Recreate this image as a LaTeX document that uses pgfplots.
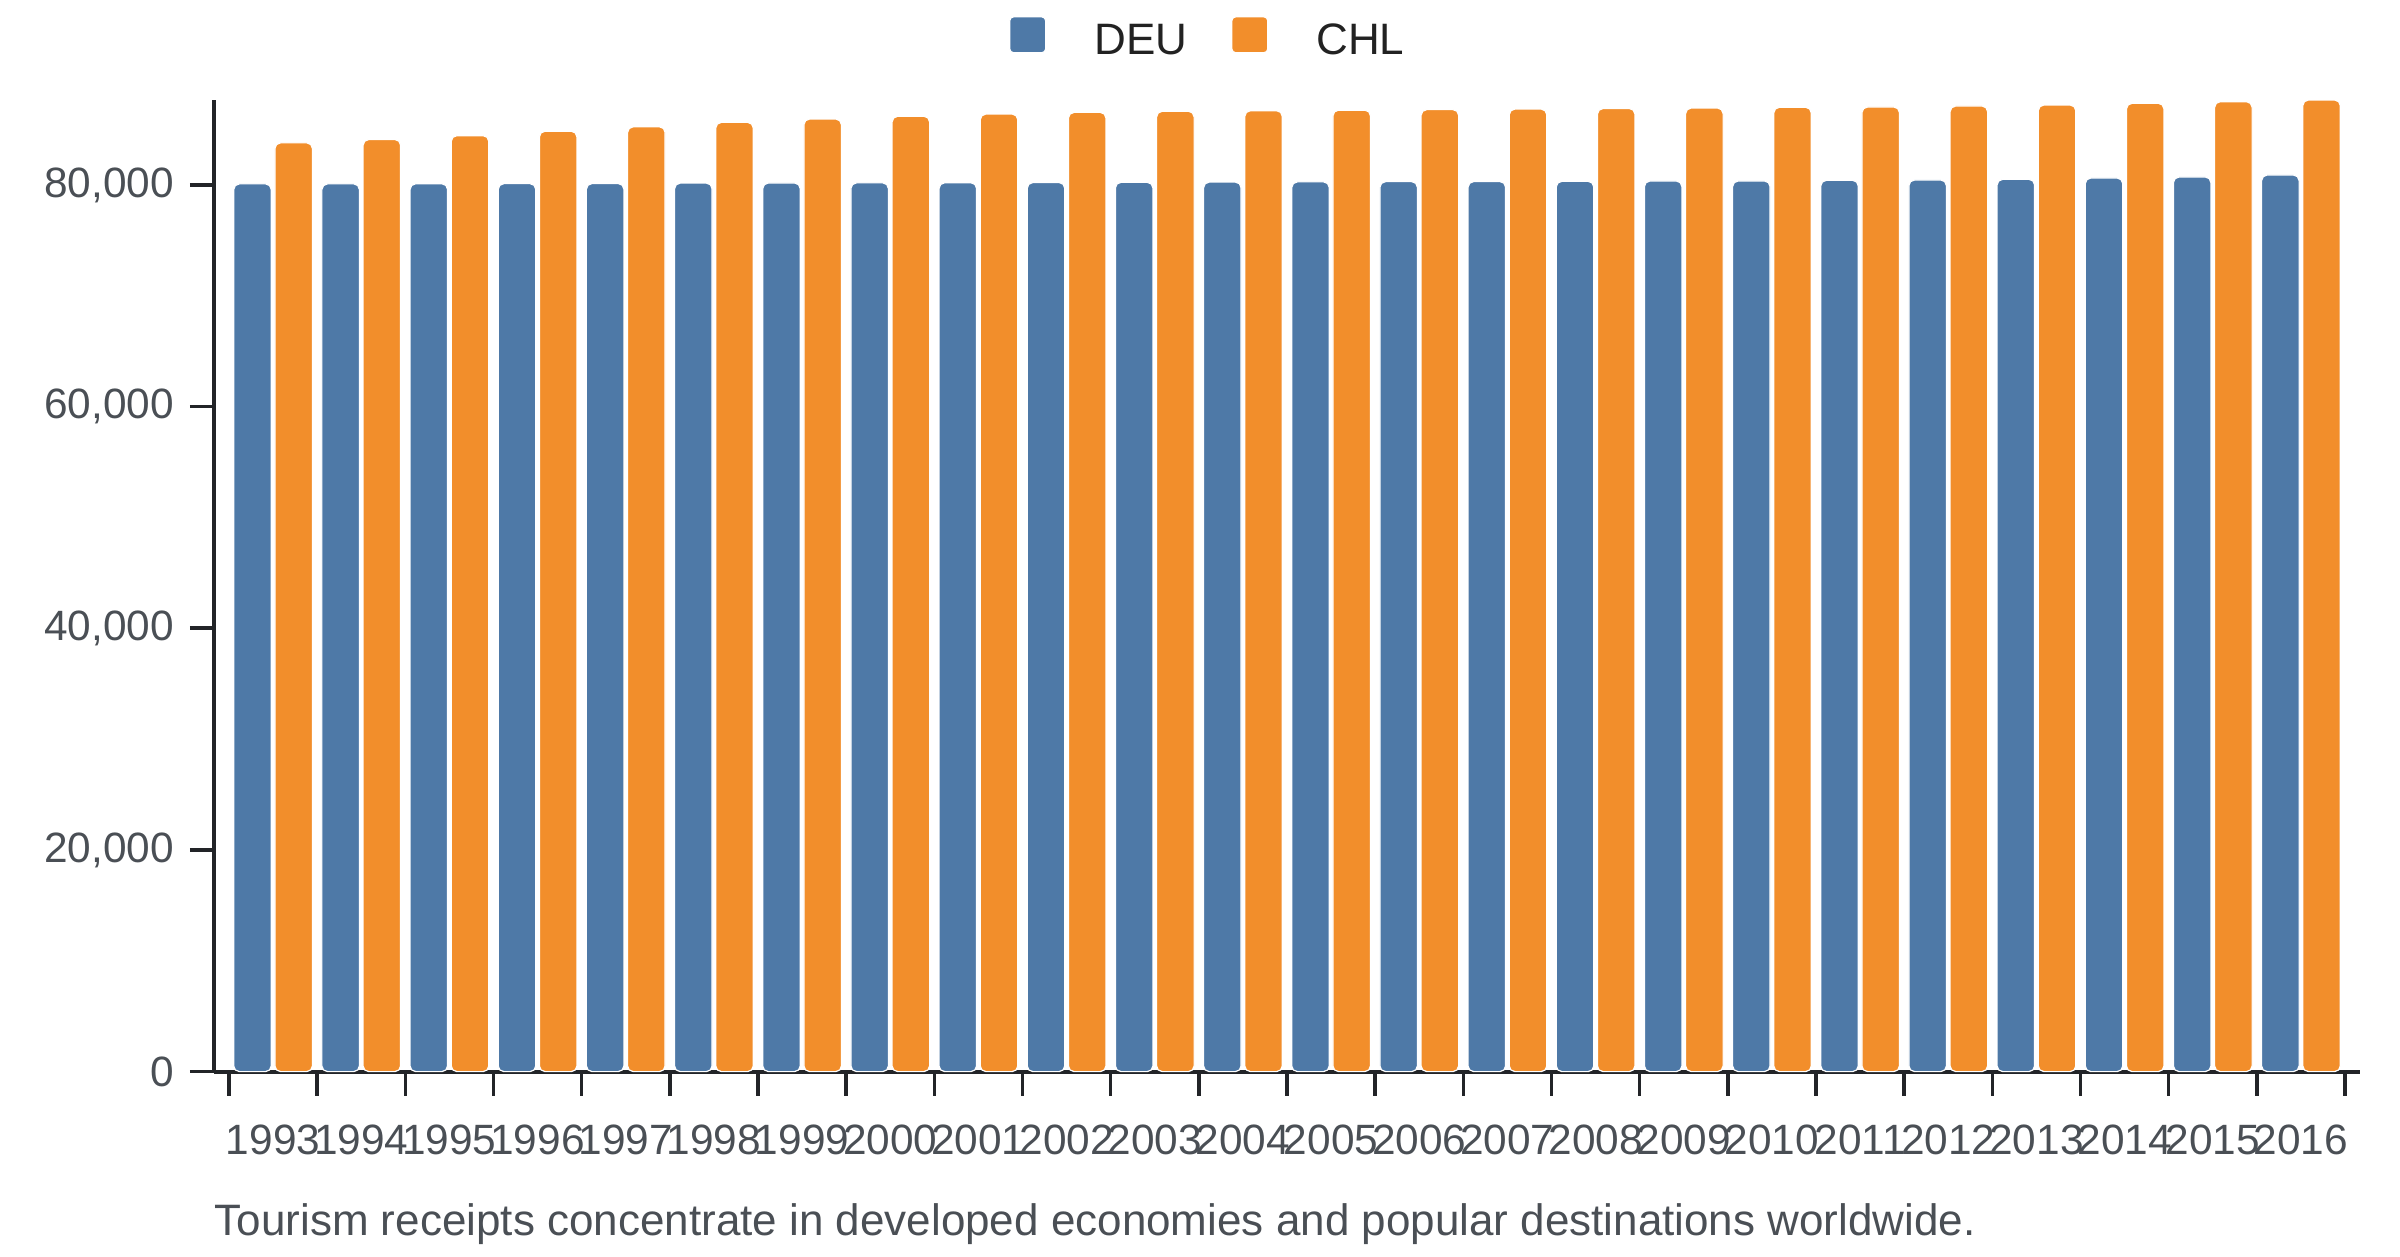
\documentclass[border=0pt]{standalone}
\usepackage{fontspec}
\setmainfont{Liberation Sans}
\usepackage{pgfplots}
\pgfplotsset{compat=1.18}
\definecolor{deu}{HTML}{4E79A7}
\definecolor{chl}{HTML}{F28E2B}
\definecolor{axc}{HTML}{222428}
\definecolor{tickc}{HTML}{4A4F55}
\definecolor{legc}{HTML}{222222}
\begin{document}
\begin{tikzpicture}
\path[use as bounding box] (0,0) rectangle (600pt,314pt);
\begin{axis}[
  at={(53.5pt,46.1pt)}, anchor=south west,
  scale only axis, width=536.5pt, height=242.9pt,
  xmin=-0.67, xmax=23.67, ymin=0, ymax=87670,
  enlargelimits=false, clip=false,
  axis x line*=bottom, axis y line*=left,
  axis line style={line width=1pt, color=axc},
  xtick={0,...,23},
  xticklabels={1993,1994,1995,1996,1997,1998,1999,2000,2001,2002,2003,2004,2005,2006,2007,2008,2009,2010,2011,2012,2013,2014,2015,2016},
  minor xtick={-0.5,0.5,...,23.5},
  major x tick style={draw=none},
  tick align=outside, major tick length=6pt, minor tick length=6pt,
  every tick/.style={line width=0.9pt, color=axc},
  ytick={0,20000,40000,60000,80000},
  scaled y ticks=false,
  /pgf/number format/1000 sep={,},
  /pgf/number format/assume math mode=true,
  ticklabel style={font=\fontsize{10.6}{12}\selectfont, text=tickc, inner sep=0pt},
  xticklabel style={anchor=north, yshift=-7pt},
  yticklabel style={anchor=east, xshift=-3.8pt},
  legend columns=2,
  legend style={draw=none, fill=none, inner sep=0pt, outer sep=0pt,
    at={(0.3705,1.0633)}, anchor=west,
    nodes={inner sep=0pt, text=legc, font=\fontsize{11}{13}\selectfont},
    /tikz/every odd column/.append style={column sep=12pt},
    /tikz/every even column/.append style={column sep=11pt}},
  legend image code/.code={\fill[#1, rounded corners=1pt] (0pt,-2.6pt) rectangle (9pt,6.4pt);},
]
\addplot[ybar, fill=deu, draw=white, line width=0.3pt, bar width=9.375pt, bar shift=-5.15pt, rounded corners=1.4pt]
  coordinates {(0,80100) (1,80100) (2,80110) (3,80120) (4,80130) (5,80170) (6,80180) (7,80190) (8,80200) (9,80220) (10,80240) (11,80260) (12,80280) (13,80300) (14,80310) (15,80330) (16,80360) (17,80360) (18,80420) (19,80450) (20,80510) (21,80630) (22,80720) (23,80900)};
\addlegendentry{DEU}
\addplot[ybar, fill=chl, draw=white, line width=0.3pt, bar width=9.375pt, bar shift=5.15pt, rounded corners=1.4pt]
  coordinates {(0,83800) (1,84100) (2,84450) (3,84850) (4,85250) (5,85650) (6,85950) (7,86200) (8,86400) (9,86550) (10,86650) (11,86700) (12,86750) (13,86800) (14,86850) (15,86900) (16,86945) (17,87010) (18,87036) (19,87126) (20,87216) (21,87370) (22,87515) (23,87667)};
\addlegendentry{CHL}
\end{axis}
\node[anchor=base west, inner sep=0pt, text=tickc, font=\fontsize{11}{13}\selectfont] at (53.5pt,5.25pt) {Tourism receipts concentrate in developed economies and popular destinations worldwide.};
\end{tikzpicture}
\end{document}
